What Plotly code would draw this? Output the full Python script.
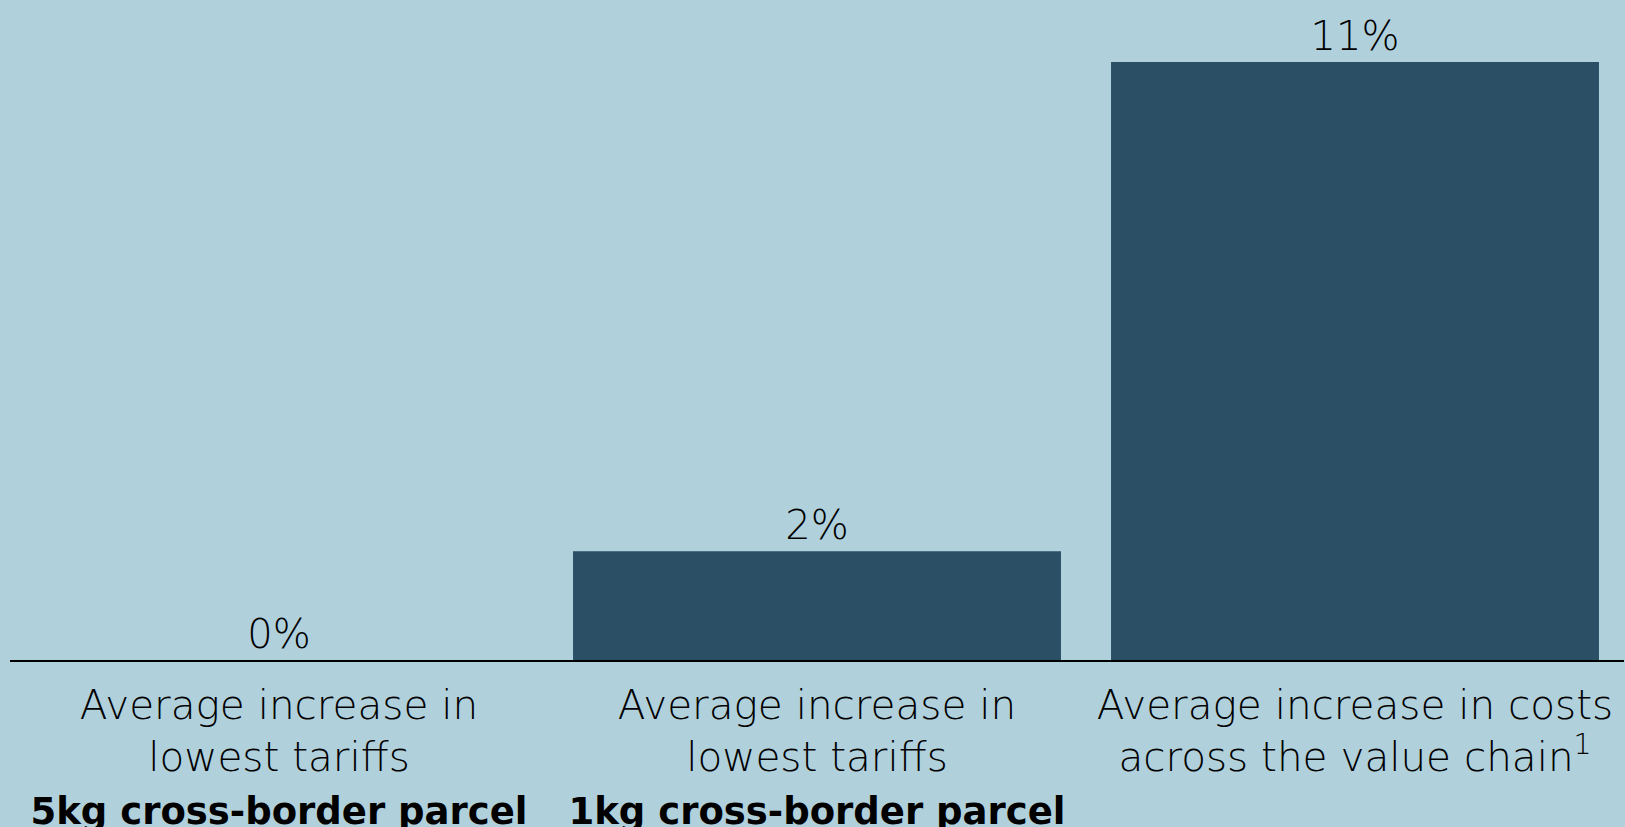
import plotly.graph_objects as go

categories = ["cat1", "cat2", "cat3"]
line1 = ["Average increase in", "Average increase in", "Average increase in costs"]
line2 = ["lowest tariffs", "lowest tariffs", "across the value chain<sup>1</sup>"]
line3 = ["5kg cross-border parcel", "1kg cross-border parcel", ""]
values = [0, 2, 11]

BG = "#b0d0dc"
BAR = "#2b5066"
REG = "DejaVu Sans"

ticktext = []
for a, b, c in zip(line1, line2, line3):
    t = a + "<br>" + b
    if c:
        t += "<br><span style='font-weight:bold; font-size:37px'>" + c + "</span>"
    ticktext.append(t)

fig = go.Figure(go.Bar(
    x=categories, y=values,
    marker=dict(color=BAR, line=dict(width=0)),
    text=[f"{v}%" for v in values], textposition="outside",
    textfont=dict(family=REG, size=40, color="black", weight=200),
    cliponaxis=False,
    hoverinfo="skip",
))
fig.update_layout(
    width=1625, height=827,
    paper_bgcolor=BG, plot_bgcolor=BG,
    margin=dict(l=10, r=1, t=0, b=167),
    bargap=0.093,
    showlegend=False,
    font=dict(family=REG, color="black"),
)
fig.update_xaxes(
    tickvals=categories, ticktext=ticktext,
    tickfont=dict(family=REG, size=40.5, color="black", weight=200),
    showline=True, linecolor="black", linewidth=2,
    ticks="", ticklabelstandoff=8, automargin=False,
)
fig.update_yaxes(range=[0, 12.14], visible=False, showgrid=False, zeroline=False, automargin=False)
fig.write_html("out.html", config={"displayModeBar": False},
               post_script="document.body.style.margin='0';document.body.style.overflow='hidden';")
